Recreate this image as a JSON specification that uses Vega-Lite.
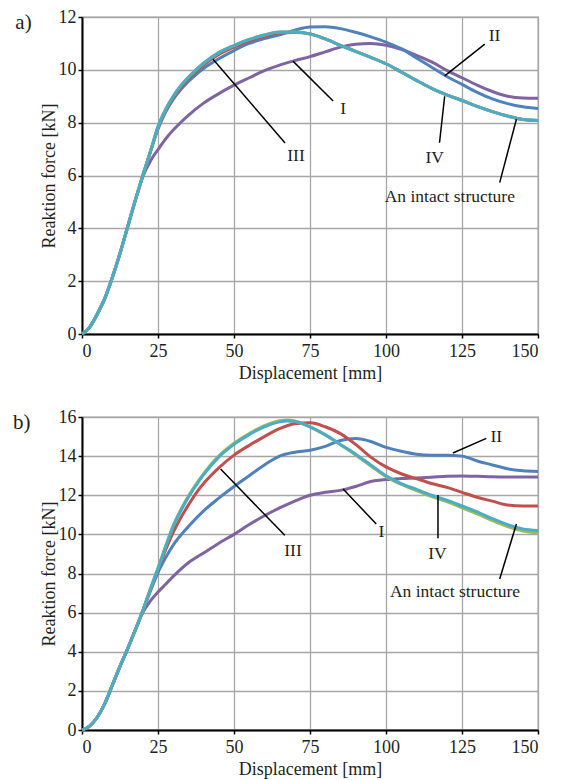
{
  "$schema": "https://vega.github.io/schema/vega-lite/v6.json",
  "padding": {"left": 12, "top": 7, "right": 8, "bottom": 0},
  "spacing": 24,
  "config": {
    "font": "Liberation Serif",
    "axis": {"labelFont": "Liberation Serif", "labelFontSize": 18, "labelColor": "#231f20", "titleFont": "Liberation Serif", "titleFontSize": 18, "titleFontWeight": "normal", "titleColor": "#231f20", "gridColor": "#a6a6a6", "gridWidth": 1.3, "domainColor": "#000000", "domainWidth": 2, "tickColor": "#000000", "tickSize": 4, "tickWidth": 1.5, "labelPadding": 4},
    "view": {"stroke": "#a6a6a6", "strokeWidth": 1.3},
    "title": {"font": "Liberation Serif", "fontSize": 21, "fontWeight": "normal", "color": "#231f20"}
  },
  "datasets": {
    "curves": [
      {"p":"a","s":"I","x":0,"y":0},{"p":"a","s":"I","x":2.5,"y":0.25},{"p":"a","s":"I","x":5,"y":0.75},{"p":"a","s":"I","x":7.5,"y":1.35},{"p":"a","s":"I","x":10,"y":2.15},{"p":"a","s":"I","x":12.5,"y":3.05},{"p":"a","s":"I","x":15,"y":4.05},{"p":"a","s":"I","x":17.5,"y":5.05},{"p":"a","s":"I","x":20,"y":5.95},{"p":"a","s":"I","x":22.5,"y":6.55},{"p":"a","s":"I","x":25,"y":6.98},{"p":"a","s":"I","x":27.5,"y":7.38},{"p":"a","s":"I","x":30,"y":7.72},{"p":"a","s":"I","x":35,"y":8.28},{"p":"a","s":"I","x":40,"y":8.74},{"p":"a","s":"I","x":45,"y":9.1},{"p":"a","s":"I","x":50,"y":9.42},{"p":"a","s":"I","x":55,"y":9.7},{"p":"a","s":"I","x":60,"y":9.97},{"p":"a","s":"I","x":65,"y":10.18},{"p":"a","s":"I","x":70,"y":10.35},{"p":"a","s":"I","x":75,"y":10.5},{"p":"a","s":"I","x":80,"y":10.68},{"p":"a","s":"I","x":85,"y":10.86},{"p":"a","s":"I","x":90,"y":10.97},{"p":"a","s":"I","x":95,"y":11.0},{"p":"a","s":"I","x":100,"y":10.93},{"p":"a","s":"I","x":105,"y":10.78},{"p":"a","s":"I","x":110,"y":10.55},{"p":"a","s":"I","x":115,"y":10.3},{"p":"a","s":"I","x":120,"y":9.98},{"p":"a","s":"I","x":125,"y":9.7},{"p":"a","s":"I","x":130,"y":9.42},{"p":"a","s":"I","x":135,"y":9.18},{"p":"a","s":"I","x":140,"y":9.0},{"p":"a","s":"I","x":145,"y":8.93},{"p":"a","s":"I","x":150,"y":8.92},

      {"p":"a","s":"II","x":0,"y":0},{"p":"a","s":"II","x":2.5,"y":0.25},{"p":"a","s":"II","x":5,"y":0.75},{"p":"a","s":"II","x":7.5,"y":1.35},{"p":"a","s":"II","x":10,"y":2.15},{"p":"a","s":"II","x":12.5,"y":3.05},{"p":"a","s":"II","x":15,"y":4.05},{"p":"a","s":"II","x":17.5,"y":5.05},{"p":"a","s":"II","x":20,"y":6.0},{"p":"a","s":"II","x":22.5,"y":6.9},{"p":"a","s":"II","x":25,"y":7.75},{"p":"a","s":"II","x":27.5,"y":8.4},{"p":"a","s":"II","x":30,"y":8.88},{"p":"a","s":"II","x":32.5,"y":9.25},{"p":"a","s":"II","x":35,"y":9.56},{"p":"a","s":"II","x":37.5,"y":9.82},{"p":"a","s":"II","x":40,"y":10.05},{"p":"a","s":"II","x":45,"y":10.42},{"p":"a","s":"II","x":50,"y":10.73},{"p":"a","s":"II","x":55,"y":11.0},{"p":"a","s":"II","x":60,"y":11.18},{"p":"a","s":"II","x":65,"y":11.33},{"p":"a","s":"II","x":70,"y":11.5},{"p":"a","s":"II","x":75,"y":11.62},{"p":"a","s":"II","x":80,"y":11.63},{"p":"a","s":"II","x":85,"y":11.56},{"p":"a","s":"II","x":90,"y":11.42},{"p":"a","s":"II","x":95,"y":11.25},{"p":"a","s":"II","x":100,"y":11.05},{"p":"a","s":"II","x":105,"y":10.8},{"p":"a","s":"II","x":110,"y":10.45},{"p":"a","s":"II","x":115,"y":10.1},{"p":"a","s":"II","x":120,"y":9.75},{"p":"a","s":"II","x":125,"y":9.45},{"p":"a","s":"II","x":130,"y":9.15},{"p":"a","s":"II","x":135,"y":8.9},{"p":"a","s":"II","x":140,"y":8.72},{"p":"a","s":"II","x":145,"y":8.6},{"p":"a","s":"II","x":150,"y":8.54},

      {"p":"a","s":"III","x":0,"y":0},{"p":"a","s":"III","x":2.5,"y":0.25},{"p":"a","s":"III","x":5,"y":0.75},{"p":"a","s":"III","x":7.5,"y":1.35},{"p":"a","s":"III","x":10,"y":2.15},{"p":"a","s":"III","x":12.5,"y":3.05},{"p":"a","s":"III","x":15,"y":4.05},{"p":"a","s":"III","x":17.5,"y":5.05},{"p":"a","s":"III","x":20,"y":6.0},{"p":"a","s":"III","x":22.5,"y":6.9},{"p":"a","s":"III","x":25,"y":7.82},{"p":"a","s":"III","x":27.5,"y":8.45},{"p":"a","s":"III","x":30,"y":8.94},{"p":"a","s":"III","x":32.5,"y":9.33},{"p":"a","s":"III","x":35,"y":9.65},{"p":"a","s":"III","x":37.5,"y":9.93},{"p":"a","s":"III","x":40,"y":10.18},{"p":"a","s":"III","x":45,"y":10.58},{"p":"a","s":"III","x":50,"y":10.86},{"p":"a","s":"III","x":55,"y":11.09},{"p":"a","s":"III","x":60,"y":11.27},{"p":"a","s":"III","x":65,"y":11.39},{"p":"a","s":"III","x":70,"y":11.41},{"p":"a","s":"III","x":75,"y":11.36},{"p":"a","s":"III","x":80,"y":11.17},{"p":"a","s":"III","x":85,"y":10.93},{"p":"a","s":"III","x":90,"y":10.7},{"p":"a","s":"III","x":95,"y":10.47},{"p":"a","s":"III","x":100,"y":10.23},{"p":"a","s":"III","x":105,"y":9.92},{"p":"a","s":"III","x":110,"y":9.6},{"p":"a","s":"III","x":115,"y":9.3},{"p":"a","s":"III","x":120,"y":9.05},{"p":"a","s":"III","x":125,"y":8.84},{"p":"a","s":"III","x":130,"y":8.62},{"p":"a","s":"III","x":135,"y":8.42},{"p":"a","s":"III","x":140,"y":8.25},{"p":"a","s":"III","x":145,"y":8.12},{"p":"a","s":"III","x":150,"y":8.08},

      {"p":"a","s":"Intact","x":0,"y":0},{"p":"a","s":"Intact","x":2.5,"y":0.25},{"p":"a","s":"Intact","x":5,"y":0.75},{"p":"a","s":"Intact","x":7.5,"y":1.35},{"p":"a","s":"Intact","x":10,"y":2.15},{"p":"a","s":"Intact","x":12.5,"y":3.05},{"p":"a","s":"Intact","x":15,"y":4.05},{"p":"a","s":"Intact","x":17.5,"y":5.05},{"p":"a","s":"Intact","x":20,"y":6.0},{"p":"a","s":"Intact","x":22.5,"y":6.9},{"p":"a","s":"Intact","x":25,"y":7.85},{"p":"a","s":"Intact","x":27.5,"y":8.5},{"p":"a","s":"Intact","x":30,"y":9.0},{"p":"a","s":"Intact","x":32.5,"y":9.4},{"p":"a","s":"Intact","x":35,"y":9.72},{"p":"a","s":"Intact","x":37.5,"y":10.0},{"p":"a","s":"Intact","x":40,"y":10.25},{"p":"a","s":"Intact","x":45,"y":10.65},{"p":"a","s":"Intact","x":50,"y":10.92},{"p":"a","s":"Intact","x":55,"y":11.15},{"p":"a","s":"Intact","x":60,"y":11.32},{"p":"a","s":"Intact","x":65,"y":11.43},{"p":"a","s":"Intact","x":70,"y":11.43},{"p":"a","s":"Intact","x":75,"y":11.36},{"p":"a","s":"Intact","x":80,"y":11.17},{"p":"a","s":"Intact","x":85,"y":10.93},{"p":"a","s":"Intact","x":90,"y":10.7},{"p":"a","s":"Intact","x":95,"y":10.47},{"p":"a","s":"Intact","x":100,"y":10.23},{"p":"a","s":"Intact","x":105,"y":9.92},{"p":"a","s":"Intact","x":110,"y":9.6},{"p":"a","s":"Intact","x":115,"y":9.3},{"p":"a","s":"Intact","x":120,"y":9.05},{"p":"a","s":"Intact","x":125,"y":8.84},{"p":"a","s":"Intact","x":130,"y":8.62},{"p":"a","s":"Intact","x":135,"y":8.42},{"p":"a","s":"Intact","x":140,"y":8.25},{"p":"a","s":"Intact","x":145,"y":8.12},{"p":"a","s":"Intact","x":150,"y":8.08},

      {"p":"a","s":"IV","x":0,"y":0},{"p":"a","s":"IV","x":2.5,"y":0.25},{"p":"a","s":"IV","x":5,"y":0.75},{"p":"a","s":"IV","x":7.5,"y":1.35},{"p":"a","s":"IV","x":10,"y":2.15},{"p":"a","s":"IV","x":12.5,"y":3.05},{"p":"a","s":"IV","x":15,"y":4.05},{"p":"a","s":"IV","x":17.5,"y":5.05},{"p":"a","s":"IV","x":20,"y":6.0},{"p":"a","s":"IV","x":22.5,"y":6.9},{"p":"a","s":"IV","x":25,"y":7.85},{"p":"a","s":"IV","x":27.5,"y":8.5},{"p":"a","s":"IV","x":30,"y":9.0},{"p":"a","s":"IV","x":32.5,"y":9.4},{"p":"a","s":"IV","x":35,"y":9.72},{"p":"a","s":"IV","x":37.5,"y":10.0},{"p":"a","s":"IV","x":40,"y":10.25},{"p":"a","s":"IV","x":45,"y":10.65},{"p":"a","s":"IV","x":50,"y":10.92},{"p":"a","s":"IV","x":55,"y":11.15},{"p":"a","s":"IV","x":60,"y":11.32},{"p":"a","s":"IV","x":65,"y":11.43},{"p":"a","s":"IV","x":70,"y":11.43},{"p":"a","s":"IV","x":75,"y":11.36},{"p":"a","s":"IV","x":80,"y":11.17},{"p":"a","s":"IV","x":85,"y":10.93},{"p":"a","s":"IV","x":90,"y":10.7},{"p":"a","s":"IV","x":95,"y":10.47},{"p":"a","s":"IV","x":100,"y":10.23},{"p":"a","s":"IV","x":105,"y":9.92},{"p":"a","s":"IV","x":110,"y":9.6},{"p":"a","s":"IV","x":115,"y":9.3},{"p":"a","s":"IV","x":120,"y":9.05},{"p":"a","s":"IV","x":125,"y":8.84},{"p":"a","s":"IV","x":130,"y":8.62},{"p":"a","s":"IV","x":135,"y":8.42},{"p":"a","s":"IV","x":140,"y":8.25},{"p":"a","s":"IV","x":145,"y":8.12},{"p":"a","s":"IV","x":150,"y":8.08},

      {"p":"b","s":"I","x":0,"y":0},{"p":"b","s":"I","x":2.5,"y":0.2},{"p":"b","s":"I","x":5,"y":0.65},{"p":"b","s":"I","x":7.5,"y":1.35},{"p":"b","s":"I","x":10,"y":2.3},{"p":"b","s":"I","x":12.5,"y":3.25},{"p":"b","s":"I","x":15,"y":4.15},{"p":"b","s":"I","x":17.5,"y":5.1},{"p":"b","s":"I","x":20,"y":6.0},{"p":"b","s":"I","x":22.5,"y":6.6},{"p":"b","s":"I","x":25,"y":7.05},{"p":"b","s":"I","x":27.5,"y":7.45},{"p":"b","s":"I","x":30,"y":7.85},{"p":"b","s":"I","x":35,"y":8.55},{"p":"b","s":"I","x":40,"y":9.05},{"p":"b","s":"I","x":45,"y":9.55},{"p":"b","s":"I","x":50,"y":10.0},{"p":"b","s":"I","x":55,"y":10.5},{"p":"b","s":"I","x":60,"y":10.95},{"p":"b","s":"I","x":65,"y":11.35},{"p":"b","s":"I","x":70,"y":11.7},{"p":"b","s":"I","x":75,"y":12.0},{"p":"b","s":"I","x":80,"y":12.15},{"p":"b","s":"I","x":85,"y":12.25},{"p":"b","s":"I","x":90,"y":12.45},{"p":"b","s":"I","x":95,"y":12.7},{"p":"b","s":"I","x":100,"y":12.8},{"p":"b","s":"I","x":105,"y":12.85},{"p":"b","s":"I","x":110,"y":12.88},{"p":"b","s":"I","x":115,"y":12.92},{"p":"b","s":"I","x":120,"y":12.97},{"p":"b","s":"I","x":125,"y":12.99},{"p":"b","s":"I","x":130,"y":12.97},{"p":"b","s":"I","x":135,"y":12.94},{"p":"b","s":"I","x":140,"y":12.93},{"p":"b","s":"I","x":145,"y":12.93},{"p":"b","s":"I","x":150,"y":12.93},

      {"p":"b","s":"II","x":0,"y":0},{"p":"b","s":"II","x":2.5,"y":0.2},{"p":"b","s":"II","x":5,"y":0.65},{"p":"b","s":"II","x":7.5,"y":1.35},{"p":"b","s":"II","x":10,"y":2.3},{"p":"b","s":"II","x":12.5,"y":3.25},{"p":"b","s":"II","x":15,"y":4.15},{"p":"b","s":"II","x":17.5,"y":5.1},{"p":"b","s":"II","x":20,"y":6.1},{"p":"b","s":"II","x":22.5,"y":7.1},{"p":"b","s":"II","x":25,"y":8.05},{"p":"b","s":"II","x":27.5,"y":8.8},{"p":"b","s":"II","x":30,"y":9.45},{"p":"b","s":"II","x":35,"y":10.4},{"p":"b","s":"II","x":40,"y":11.2},{"p":"b","s":"II","x":45,"y":11.85},{"p":"b","s":"II","x":50,"y":12.45},{"p":"b","s":"II","x":55,"y":13.0},{"p":"b","s":"II","x":60,"y":13.55},{"p":"b","s":"II","x":65,"y":14.0},{"p":"b","s":"II","x":70,"y":14.2},{"p":"b","s":"II","x":75,"y":14.3},{"p":"b","s":"II","x":80,"y":14.5},{"p":"b","s":"II","x":85,"y":14.8},{"p":"b","s":"II","x":90,"y":14.9},{"p":"b","s":"II","x":95,"y":14.75},{"p":"b","s":"II","x":100,"y":14.45},{"p":"b","s":"II","x":105,"y":14.25},{"p":"b","s":"II","x":110,"y":14.1},{"p":"b","s":"II","x":115,"y":14.05},{"p":"b","s":"II","x":120,"y":14.05},{"p":"b","s":"II","x":125,"y":14.0},{"p":"b","s":"II","x":130,"y":13.75},{"p":"b","s":"II","x":135,"y":13.55},{"p":"b","s":"II","x":140,"y":13.35},{"p":"b","s":"II","x":145,"y":13.25},{"p":"b","s":"II","x":150,"y":13.22},

      {"p":"b","s":"III","x":0,"y":0},{"p":"b","s":"III","x":2.5,"y":0.2},{"p":"b","s":"III","x":5,"y":0.65},{"p":"b","s":"III","x":7.5,"y":1.35},{"p":"b","s":"III","x":10,"y":2.3},{"p":"b","s":"III","x":12.5,"y":3.25},{"p":"b","s":"III","x":15,"y":4.15},{"p":"b","s":"III","x":17.5,"y":5.1},{"p":"b","s":"III","x":20,"y":6.1},{"p":"b","s":"III","x":22.5,"y":7.18},{"p":"b","s":"III","x":25,"y":8.2},{"p":"b","s":"III","x":27.5,"y":9.2},{"p":"b","s":"III","x":30,"y":10.1},{"p":"b","s":"III","x":32.5,"y":10.85},{"p":"b","s":"III","x":35,"y":11.5},{"p":"b","s":"III","x":37.5,"y":12.1},{"p":"b","s":"III","x":40,"y":12.6},{"p":"b","s":"III","x":45,"y":13.4},{"p":"b","s":"III","x":50,"y":14.05},{"p":"b","s":"III","x":55,"y":14.55},{"p":"b","s":"III","x":60,"y":15.0},{"p":"b","s":"III","x":65,"y":15.4},{"p":"b","s":"III","x":70,"y":15.65},{"p":"b","s":"III","x":75,"y":15.7},{"p":"b","s":"III","x":80,"y":15.5},{"p":"b","s":"III","x":85,"y":15.15},{"p":"b","s":"III","x":90,"y":14.6},{"p":"b","s":"III","x":95,"y":13.95},{"p":"b","s":"III","x":100,"y":13.45},{"p":"b","s":"III","x":105,"y":13.1},{"p":"b","s":"III","x":110,"y":12.85},{"p":"b","s":"III","x":115,"y":12.6},{"p":"b","s":"III","x":120,"y":12.4},{"p":"b","s":"III","x":125,"y":12.15},{"p":"b","s":"III","x":130,"y":11.9},{"p":"b","s":"III","x":135,"y":11.7},{"p":"b","s":"III","x":140,"y":11.5},{"p":"b","s":"III","x":145,"y":11.45},{"p":"b","s":"III","x":150,"y":11.45},

      {"p":"b","s":"Intact","x":0,"y":0},{"p":"b","s":"Intact","x":2.5,"y":0.2},{"p":"b","s":"Intact","x":5,"y":0.65},{"p":"b","s":"Intact","x":7.5,"y":1.35},{"p":"b","s":"Intact","x":10,"y":2.3},{"p":"b","s":"Intact","x":12.5,"y":3.25},{"p":"b","s":"Intact","x":15,"y":4.15},{"p":"b","s":"Intact","x":17.5,"y":5.1},{"p":"b","s":"Intact","x":20,"y":6.1},{"p":"b","s":"Intact","x":22.5,"y":7.22},{"p":"b","s":"Intact","x":25,"y":8.28},{"p":"b","s":"Intact","x":27.5,"y":9.4},{"p":"b","s":"Intact","x":30,"y":10.45},{"p":"b","s":"Intact","x":32.5,"y":11.26},{"p":"b","s":"Intact","x":35,"y":11.96},{"p":"b","s":"Intact","x":37.5,"y":12.56},{"p":"b","s":"Intact","x":40,"y":13.11},{"p":"b","s":"Intact","x":45,"y":14.01},{"p":"b","s":"Intact","x":50,"y":14.66},{"p":"b","s":"Intact","x":55,"y":15.16},{"p":"b","s":"Intact","x":60,"y":15.56},{"p":"b","s":"Intact","x":65,"y":15.81},{"p":"b","s":"Intact","x":67.5,"y":15.85},{"p":"b","s":"Intact","x":70,"y":15.8},{"p":"b","s":"Intact","x":75,"y":15.5},{"p":"b","s":"Intact","x":80,"y":15.08},{"p":"b","s":"Intact","x":85,"y":14.58},{"p":"b","s":"Intact","x":90,"y":14.06},{"p":"b","s":"Intact","x":95,"y":13.5},{"p":"b","s":"Intact","x":100,"y":12.95},{"p":"b","s":"Intact","x":105,"y":12.55},{"p":"b","s":"Intact","x":110,"y":12.24},{"p":"b","s":"Intact","x":115,"y":11.93},{"p":"b","s":"Intact","x":120,"y":11.67},{"p":"b","s":"Intact","x":125,"y":11.36},{"p":"b","s":"Intact","x":130,"y":11.05},{"p":"b","s":"Intact","x":135,"y":10.7},{"p":"b","s":"Intact","x":140,"y":10.4},{"p":"b","s":"Intact","x":145,"y":10.17},{"p":"b","s":"Intact","x":150,"y":10.08},

      {"p":"b","s":"IV","x":0,"y":0},{"p":"b","s":"IV","x":2.5,"y":0.2},{"p":"b","s":"IV","x":5,"y":0.65},{"p":"b","s":"IV","x":7.5,"y":1.35},{"p":"b","s":"IV","x":10,"y":2.3},{"p":"b","s":"IV","x":12.5,"y":3.25},{"p":"b","s":"IV","x":15,"y":4.15},{"p":"b","s":"IV","x":17.5,"y":5.1},{"p":"b","s":"IV","x":20,"y":6.1},{"p":"b","s":"IV","x":22.5,"y":7.2},{"p":"b","s":"IV","x":25,"y":8.25},{"p":"b","s":"IV","x":27.5,"y":9.35},{"p":"b","s":"IV","x":30,"y":10.4},{"p":"b","s":"IV","x":32.5,"y":11.2},{"p":"b","s":"IV","x":35,"y":11.9},{"p":"b","s":"IV","x":37.5,"y":12.5},{"p":"b","s":"IV","x":40,"y":13.05},{"p":"b","s":"IV","x":45,"y":13.95},{"p":"b","s":"IV","x":50,"y":14.6},{"p":"b","s":"IV","x":55,"y":15.1},{"p":"b","s":"IV","x":60,"y":15.5},{"p":"b","s":"IV","x":65,"y":15.75},{"p":"b","s":"IV","x":67.5,"y":15.8},{"p":"b","s":"IV","x":70,"y":15.77},{"p":"b","s":"IV","x":75,"y":15.5},{"p":"b","s":"IV","x":80,"y":15.1},{"p":"b","s":"IV","x":85,"y":14.6},{"p":"b","s":"IV","x":90,"y":14.1},{"p":"b","s":"IV","x":95,"y":13.55},{"p":"b","s":"IV","x":100,"y":13.0},{"p":"b","s":"IV","x":105,"y":12.6},{"p":"b","s":"IV","x":110,"y":12.3},{"p":"b","s":"IV","x":115,"y":12.0},{"p":"b","s":"IV","x":120,"y":11.75},{"p":"b","s":"IV","x":125,"y":11.45},{"p":"b","s":"IV","x":130,"y":11.15},{"p":"b","s":"IV","x":135,"y":10.8},{"p":"b","s":"IV","x":140,"y":10.5},{"p":"b","s":"IV","x":145,"y":10.28},{"p":"b","s":"IV","x":150,"y":10.2}
    ],
    "leaders": [
      {"p":"a","x":43.1,"y":10.4,"x2":66.8,"y2":7.23},
      {"p":"a","x":69.4,"y":10.33,"x2":82.6,"y2":8.82},
      {"p":"a","x":119.3,"y":9.77,"x2":132.5,"y2":10.97},
      {"p":"a","x":119.3,"y":9.0,"x2":117.6,"y2":7.24},
      {"p":"a","x":142.9,"y":8.13,"x2":137.4,"y2":5.73},
      {"p":"b","x":45.6,"y":13.34,"x2":66.7,"y2":9.95},
      {"p":"b","x":85.9,"y":12.32,"x2":96.8,"y2":10.53},
      {"p":"b","x":122.0,"y":14.16,"x2":133.0,"y2":14.91},
      {"p":"b","x":117.1,"y":12.01,"x2":117.1,"y2":9.8},
      {"p":"b","x":142.9,"y":10.53,"x2":137.4,"y2":7.72}
    ],
    "labels": [
      {"p":"a","label":"III","x":70.4,"y":6.74},
      {"p":"a","label":"I","x":85.9,"y":8.5},
      {"p":"a","label":"II","x":135.7,"y":11.28},
      {"p":"a","label":"IV","x":116.0,"y":6.67},
      {"p":"a","label":"An intact structure","x":121.0,"y":5.2},
      {"p":"b","label":"III","x":69.4,"y":9.17},
      {"p":"b","label":"I","x":98.5,"y":10.1},
      {"p":"b","label":"II","x":136.3,"y":14.96},
      {"p":"b","label":"IV","x":116.9,"y":9.0},
      {"p":"b","label":"An intact structure","x":122.7,"y":7.06}
    ]
  },
  "vconcat": [
    {
      "width": 456,
      "height": 317,
      "title": {"text": "a)", "orient": "left", "anchor": "end", "frame": "group", "angle": 0, "align": "right", "baseline": "top", "offset": -8, "dy": -5},
      "encoding": {
        "x": {"field": "x", "type": "quantitative", "scale": {"domain": [0, 150], "nice": false}, "axis": {"values": [0, 25, 50, 75, 100, 125, 150], "title": "Displacement [mm]", "titlePadding": 4, "labelOverlap": false}},
        "y": {"field": "y", "type": "quantitative", "scale": {"domain": [0, 12], "nice": false}, "axis": {"values": [0, 2, 4, 6, 8, 10, 12], "title": "Reaktion force [kN]", "titlePadding": 0, "labelPadding": 2, "labelOverlap": false}}
      },
      "layer": [
        {
          "data": {"name": "curves"},
          "transform": [{"filter": "datum.p === 'a'"}],
          "mark": {"type": "line", "strokeWidth": 3, "interpolate": "monotone"},
          "encoding": {
            "color": {"field": "s", "type": "nominal", "legend": null, "scale": {"domain": ["I", "II", "III", "Intact", "IV"], "range": ["#8064A2", "#4F81BD", "#C0504D", "#9BBB59", "#4BACC6"]}}
          }
        },
        {
          "data": {"name": "leaders"},
          "transform": [{"filter": "datum.p === 'a'"}],
          "mark": {"type": "rule", "color": "#000000", "strokeWidth": 1.5},
          "encoding": {"x2": {"field": "x2"}, "y2": {"field": "y2"}}
        },
        {
          "data": {"name": "labels"},
          "transform": [{"filter": "datum.p === 'a'"}],
          "mark": {"type": "text", "font": "Liberation Serif", "fontSize": 17.5, "color": "#231f20", "align": "center", "baseline": "middle"},
          "encoding": {"text": {"field": "label"}}
        }
      ]
    },
    {
      "width": 456,
      "height": 313,
      "title": {"text": "b)", "orient": "left", "anchor": "end", "frame": "group", "angle": 0, "align": "right", "baseline": "top", "offset": -8, "dy": -5},
      "encoding": {
        "x": {"field": "x", "type": "quantitative", "scale": {"domain": [0, 150], "nice": false}, "axis": {"values": [0, 25, 50, 75, 100, 125, 150], "title": "Displacement [mm]", "titlePadding": 4, "labelOverlap": false}},
        "y": {"field": "y", "type": "quantitative", "scale": {"domain": [0, 16], "nice": false}, "axis": {"values": [0, 2, 4, 6, 8, 10, 12, 14, 16], "title": "Reaktion force [kN]", "titlePadding": 0, "labelPadding": 2, "labelOverlap": false}}
      },
      "layer": [
        {
          "data": {"name": "curves"},
          "transform": [{"filter": "datum.p === 'b'"}],
          "mark": {"type": "line", "strokeWidth": 3, "interpolate": "monotone"},
          "encoding": {
            "color": {"field": "s", "type": "nominal", "legend": null, "scale": {"domain": ["I", "II", "III", "Intact", "IV"], "range": ["#8064A2", "#4F81BD", "#C0504D", "#9BBB59", "#4BACC6"]}}
          }
        },
        {
          "data": {"name": "leaders"},
          "transform": [{"filter": "datum.p === 'b'"}],
          "mark": {"type": "rule", "color": "#000000", "strokeWidth": 1.5},
          "encoding": {"x2": {"field": "x2"}, "y2": {"field": "y2"}}
        },
        {
          "data": {"name": "labels"},
          "transform": [{"filter": "datum.p === 'b'"}],
          "mark": {"type": "text", "font": "Liberation Serif", "fontSize": 17.5, "color": "#231f20", "align": "center", "baseline": "middle"},
          "encoding": {"text": {"field": "label"}}
        }
      ]
    }
  ]
}
